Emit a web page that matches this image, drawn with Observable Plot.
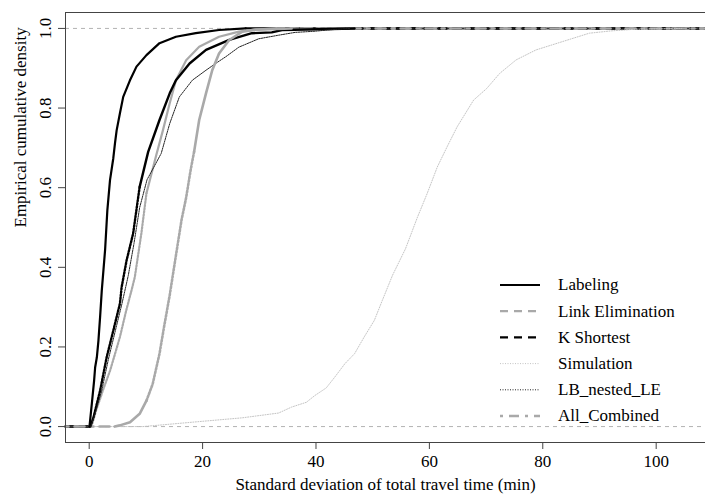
<!DOCTYPE html>
<html>
<head>
<meta charset="utf-8">
<script src="https://cdn.jsdelivr.net/npm/d3@7"></script>
<script src="https://cdn.jsdelivr.net/npm/@observablehq/plot@0.6"></script>
<style>
  body { margin: 0; background: #fff; }
</style>
</head>
<body>
<div id="chart"></div>
<script>
// Empirical CDFs of the standard deviation of total travel time (min), one per method.
const seriesNames = ["Labeling", "Link Elimination", "K Shortest", "Simulation", "LB_nested_LE", "All_Combined"];

const labelingX = [0.05, 0.47, 0.87, 1.05, 1.35, 1.63, 1.92, 2.22, 2.8, 3.2, 3.67, 4.25, 4.55, 4.84, 5.42, 6.0, 7.17, 8.34, 10.1, 12.4, 15.3, 18.8, 22.9, 27.6];
const labelingY = [0, 0.058, 0.116, 0.149, 0.174, 0.216, 0.275, 0.342, 0.443, 0.543, 0.619, 0.674, 0.712, 0.744, 0.787, 0.828, 0.869, 0.904, 0.933, 0.963, 0.979, 0.988, 0.996, 1.0];

const linkElimX = [0.4, 1.2, 2.4, 3.67, 4.5, 5.42, 6.5, 7.46, 8.04, 9.2, 10.1, 11.8, 13.0, 14.2, 15.3, 17.1, 19.4, 22.9, 26.4, 29.3, 33.0];
const linkElimY = [0, 0.04, 0.09, 0.14, 0.18, 0.225, 0.29, 0.342, 0.375, 0.485, 0.586, 0.68, 0.744, 0.812, 0.87, 0.92, 0.954, 0.979, 0.992, 0.997, 1.0];

const kShortestX = [0.17, 0.75, 1.92, 3.08, 4.25, 5.42, 5.72, 6.59, 7.75, 8.9, 10.4, 12.4, 14.2, 15.3, 17.7, 20.6, 24.7, 28.7, 32.2, 34.0, 40.4, 46.8];
const kShortestY = [0, 0.023, 0.09, 0.174, 0.241, 0.309, 0.35, 0.417, 0.485, 0.602, 0.69, 0.77, 0.837, 0.87, 0.912, 0.946, 0.971, 0.988, 0.99, 0.996, 0.998, 1.0];

const simulationX = [9.5, 18.2, 27.0, 33.4, 35.7, 38.3, 39.8, 41.8, 43.3, 45.1, 46.8, 48.5, 50.3, 51.7, 53.5, 55.8, 57.9, 59.6, 61.4, 63.1, 64.9, 67.8, 70.1, 72.4, 75.3, 78.8, 83.5, 88.2, 92.2, 96.3, 104.5];
const simulationY = [0, 0.011, 0.022, 0.034, 0.049, 0.061, 0.078, 0.097, 0.124, 0.158, 0.183, 0.225, 0.267, 0.317, 0.38, 0.447, 0.526, 0.585, 0.652, 0.702, 0.753, 0.82, 0.849, 0.887, 0.921, 0.946, 0.967, 0.988, 0.994, 0.998, 1.0];

const lbNestedX = [0.3, 1.0, 2.2, 3.4, 4.6, 5.8, 6.9, 7.9, 8.9, 10.2, 12.7, 14.2, 15.9, 18.2, 20.6, 22.3, 24.1, 26.4, 29.9, 33.4, 36.3, 39.8, 42.0, 46.0];
const lbNestedY = [0, 0.03, 0.09, 0.17, 0.24, 0.31, 0.38, 0.46, 0.55, 0.62, 0.686, 0.761, 0.828, 0.87, 0.895, 0.912, 0.929, 0.953, 0.974, 0.983, 0.99, 0.993, 0.996, 1.0];

const allCombinedX = [4.5, 5.4, 7.2, 8.9, 10.1, 11.2, 12.4, 13.2, 14.2, 15.3, 16.3, 17.1, 17.9, 18.5, 19.4, 20.6, 21.7, 22.9, 24.7, 27.0, 29.3, 35.7];
const allCombinedY = [0, 0.003, 0.011, 0.032, 0.065, 0.107, 0.183, 0.25, 0.33, 0.43, 0.52, 0.575, 0.645, 0.69, 0.77, 0.837, 0.895, 0.937, 0.971, 0.992, 0.997, 1.0];

const xTicks = [0, 20, 40, 60, 80, 100];
const yTicks = [0, 0.2, 0.4, 0.6, 0.8, 1.0];

const seriesX = [labelingX, linkElimX, kShortestX, simulationX, lbNestedX, allCombinedX];
const seriesY = [labelingY, linkElimY, kShortestY, simulationY, lbNestedY, allCombinedY];

// Line styles. Where the ECDF climbs steeply its many small steps read as a dotted trace
// ("steep" dash pattern over the "steepBand" range of y); elsewhere the step segments read as a line.
// "flat" is the dash pattern of the 0/1 extensions and the legend keys.
const styles = {
  "Labeling":         {stroke: "#000000", width: 2.2, line: null,    steep: null,     steepBand: null,        flat: null},
  "Link Elimination": {stroke: "#a9a9a9", width: 2.2, line: null,    steep: "1.6,1.6", steepBand: [0.0, 0.62], flat: "8,6"},
  "K Shortest":       {stroke: "#000000", width: 2.4, line: null,    steep: "1.6,1.6", steepBand: [0.0, 0.68], flat: "8,6"},
  "Simulation":       {stroke: "#c4c4c4", width: 1,   line: "1,1.5", steep: null,     steepBand: null,        flat: "1,1.5"},
  "LB_nested_LE":     {stroke: "#222222", width: 1,   line: "1.5,1", steep: null,     steepBand: null,        flat: "1,1.5"},
  "All_Combined":     {stroke: "#a9a9a9", width: 2.6, line: null,    steep: "1.8,1.8", steepBand: [0.1, 0.75], flat: "3,6,10,6"}
};

const xDomain = [-4.18, 108.7];
const yDomain = [-0.04, 1.04];

// Split a series into consecutive runs inside / outside the steep band.
function runs(pts, band) {
  if (!band) return [{steep: false, pts}];
  const out = [];
  let cur = null;
  pts.forEach((p, j) => {
    const steep = p.y >= band[0] && p.y <= band[1];
    if (!cur || cur.steep !== steep) {
      const prev = j > 0 ? [pts[j - 1]] : [];
      cur = {steep, pts: prev.slice()};
      out.push(cur);
    }
    cur.pts.push(p);
  });
  return out;
}

const curveMarks = [];
const tailMarks = [];
seriesNames.forEach((name, i) => {
  const s = styles[name];
  const pts = seriesX[i].map((x, j) => ({x, y: seriesY[i][j]}));
  for (const r of runs(pts, s.steepBand)) {
    const dash = r.steep ? s.steep : s.line;
    curveMarks.push(Plot.line(r.pts, {
      x: "x", y: "y", stroke: s.stroke, strokeWidth: s.width,
      strokeDasharray: dash ?? undefined, strokeLinejoin: "round"
    }));
  }
  const first = pts[0], last = pts[pts.length - 1];
  tailMarks.push(Plot.line([{x: xDomain[0], y: first.y}, first], {
    x: "x", y: "y", stroke: s.stroke, strokeWidth: s.width, strokeDasharray: s.flat ?? undefined
  }));
  tailMarks.push(Plot.line([last, {x: xDomain[1], y: last.y}], {
    x: "x", y: "y", stroke: s.stroke, strokeWidth: s.width, strokeDasharray: s.flat ?? undefined
  }));
});

const serif = "'Liberation Serif', 'Times New Roman', serif";

const chart = Plot.plot({
  width: 705,
  height: 497,
  marginLeft: 65,
  marginRight: 0,
  marginTop: 12,
  marginBottom: 55,
  x: {domain: xDomain},
  y: {domain: yDomain},
  style: `font-family: ${serif}; font-size: 17px; background: #ffffff; color: #000000; overflow: hidden;`,
  marks: [
    Plot.ruleY([0, 1], {stroke: "#b3b3b3", strokeWidth: 1, strokeDasharray: "4,4"}),
    ...tailMarks,
    ...curveMarks,
    // plot box (top, left, bottom)
    Plot.ruleY([yDomain[1]], {stroke: "#444444", strokeWidth: 1}),
    Plot.ruleY([yDomain[0]], {stroke: "#444444", strokeWidth: 1}),
    Plot.ruleX([xDomain[0]], {stroke: "#444444", strokeWidth: 1}),
    Plot.axisX({ticks: xTicks, tickSize: 7, tickPadding: 5, label: null, tickFormat: d => String(d), stroke: "#444444"}),
    Plot.axisY({ticks: yTicks, tickSize: 7, tickFormat: () => "", label: null, stroke: "#444444"}),
    Plot.text(yTicks, {x: xDomain[0], y: d => d, text: d => d.toFixed(1), rotate: -90, dx: -20, fill: "#000"}),
    Plot.text(["Standard deviation of total travel time (min)"], {frameAnchor: "bottom", dy: 47, fill: "#000"}),
    Plot.text(["Empirical cumulative density"], {frameAnchor: "left", dx: -45, rotate: -90, fill: "#000"})
  ]
});

// Legend in the lower right corner of the plotting area.
const legend = d3.select(chart).append("g")
  .attr("font-family", serif)
  .attr("font-size", 17)
  .attr("text-anchor", "start");
seriesNames.forEach((name, i) => {
  const s = styles[name];
  const cy = 285 + i * 26.2;
  legend.append("line")
    .attr("x1", 500).attr("x2", 540).attr("y1", cy).attr("y2", cy)
    .attr("stroke", s.stroke).attr("stroke-width", s.width)
    .attr("stroke-dasharray", s.flat);
  legend.append("text")
    .attr("x", 558).attr("y", cy).attr("dy", "0.32em")
    .attr("fill", "#000")
    .text(name);
});

document.getElementById("chart").appendChild(chart);
</script>
</body>
</html>
